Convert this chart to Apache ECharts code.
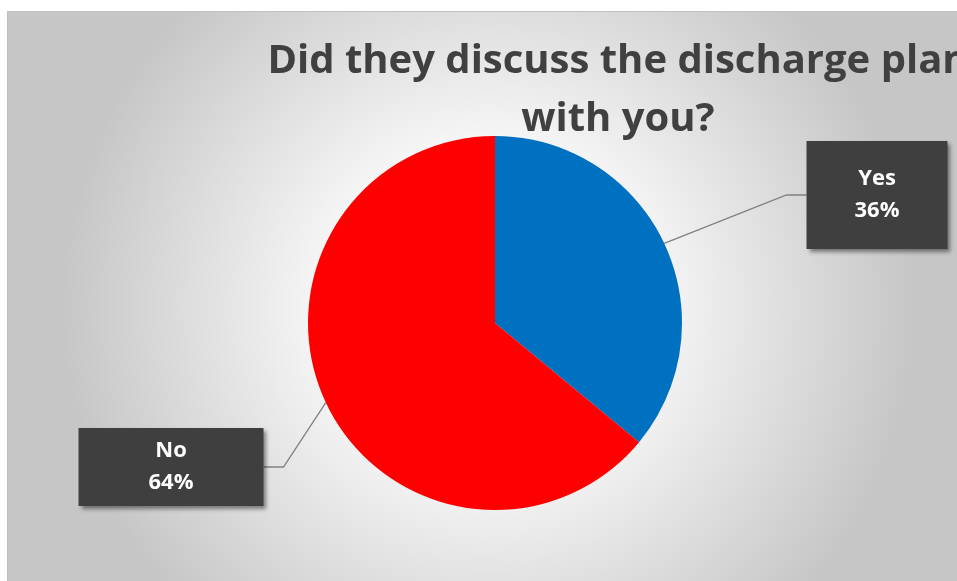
<!DOCTYPE html>
<html>
<head>
<meta charset="utf-8">
<script src="https://cdn.jsdelivr.net/npm/echarts@6/dist/echarts.min.js"></script>
<style>
html,body{margin:0;padding:0;background:#fff;width:957px;height:581px;overflow:hidden;}
#c{position:absolute;left:7px;top:11px;width:960px;height:569px;border-top:1px solid #c0c0c0;border-left:1px solid #c0c0c0;}
</style>
</head>
<body>
<div id="c"></div>
<script>
const titleLines = ['Did they discuss the discharge plan', 'with you?'];
const categories = ['Yes', 'No'];
const values = [36, 64];
const colors = ['#0070C0', '#FF0000'];

const chart = echarts.init(document.getElementById('c'), null, {renderer: 'canvas'});

const labelPads = [[22, 48], [7, 70]];
const labelPos = [[869, 183], [163, 455]];

const data = categories.map((name, i) => ({
  name: name,
  value: values[i],
  itemStyle: {color: colors[i]},
  label: {padding: labelPads[i]}
}));

chart.setOption({
  backgroundColor: {
    type: 'radial', x: 0.5, y: 0.52, r: 0.75,
    colorStops: [
      {offset: 0, color: '#ffffff'},
      {offset: 0.3, color: '#fdfdfd'},
      {offset: 1, color: '#c6c6c6'}
    ]
  },
  title: {
    text: titleLines.join('\n'),
    left: 605,
    top: 16,
    textAlign: 'center',
    textStyle: {
      fontFamily: 'Open Sans',
      fontWeight: 'bold',
      fontSize: 40,
      lineHeight: 58,
      color: '#404040'
    }
  },
  series: [{
    type: 'pie',
    center: [487, 311],
    radius: 187,
    startAngle: 90,
    clockwise: true,
    data: data,
    label: {
      show: true,
      formatter: '{b}\n{d}%',
      color: '#ffffff',
      fontFamily: 'Open Sans',
      fontWeight: 'bold',
      fontSize: 22,
      lineHeight: 32,
      align: 'center',
      backgroundColor: '#3f3f3f',
      shadowColor: 'rgba(0,0,0,0.45)',
      shadowBlur: 4,
      shadowOffsetX: 3,
      shadowOffsetY: 3
    },
    labelLine: {
      show: true,
      length: 20,
      length2: 20,
      lineStyle: {color: '#808080', width: 1.3}
    },
    labelLayout: function (p) {
      const pos = labelPos[p.dataIndex];
      return {x: pos[0], y: pos[1], align: 'center', verticalAlign: 'middle', moveOverlap: null};
    },
    emphasis: {disabled: true},
    animation: false
  }]
});
</script>
</body>
</html>
